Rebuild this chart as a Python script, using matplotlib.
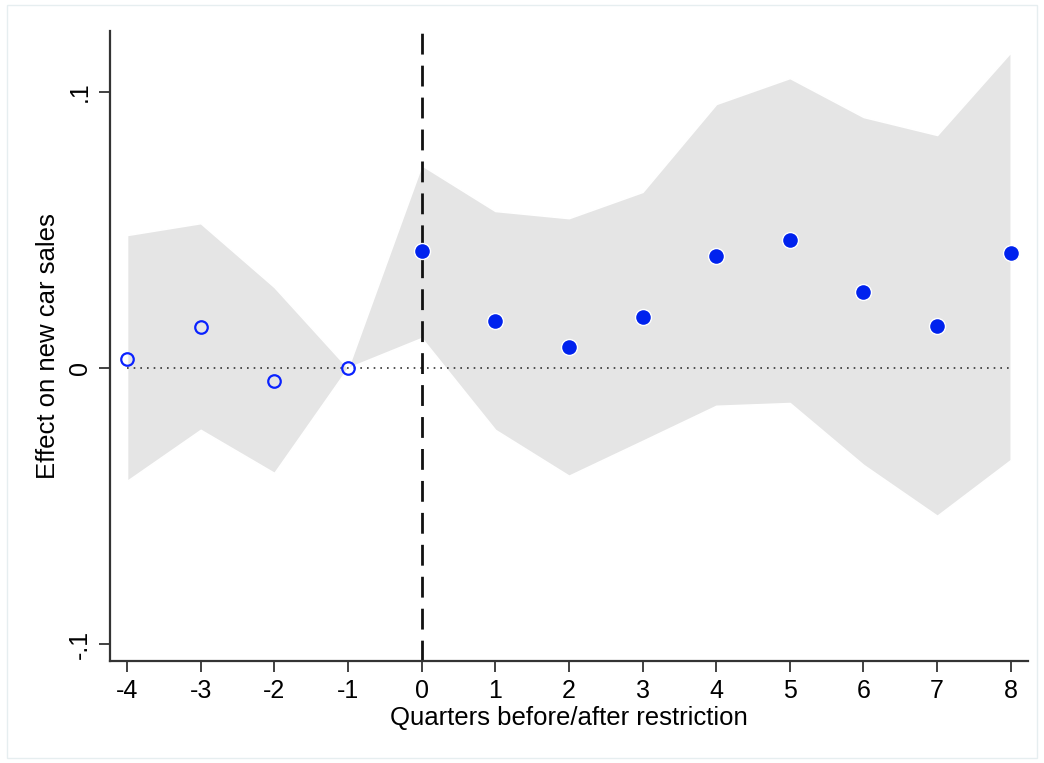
import matplotlib
matplotlib.use("Agg")
import matplotlib.pyplot as plt
from matplotlib.patches import Rectangle

plt.rcParams['font.family'] = ['Liberation Sans', 'DejaVu Sans']

quarters = [-4, -3, -2, -1, 0, 1, 2, 3, 4, 5, 6, 7, 8]
effect = [0.0033, 0.0148, -0.0047, 0.0, 0.0423, 0.0170, 0.0076, 0.0184, 0.0405, 0.0463, 0.0275, 0.0152, 0.0416]
upper = [0.0481, 0.0524, 0.0293, 0.0, 0.0734, 0.0568, 0.0542, 0.0637, 0.0955, 0.1049, 0.0908, 0.0843, 0.1143]
lower = [-0.0409, -0.0224, -0.0380, 0.0, 0.0108, -0.0224, -0.0390, -0.0264, -0.0137, -0.0127, -0.0351, -0.0535, -0.0333]
ytick_vals = [-0.1, 0.0, 0.1]
ytick_labels = ['-.1', '0', '.1']

fig = plt.figure(figsize=(10.44, 7.63), dpi=100)
ax = fig.add_axes([0.1054, 0.1337, 0.8790, 0.8257])

ax.fill_between(quarters, lower, upper, color='#e5e5e5', edgecolor='white', linewidth=1.2, zorder=1)
ax.plot([quarters[0], quarters[-1]], [0, 0], linestyle=(0, (1, 3)), color='#333333', linewidth=1.2, zorder=2)
ax.axvline(0, color='#111111', linewidth=2, linestyle=(0, (7.5, 4)), zorder=2)

pre = [i for i, q in enumerate(quarters) if q < 0]
post = [i for i, q in enumerate(quarters) if q >= 0]
ax.plot([quarters[i] for i in pre], [effect[i] for i in pre], 'o', markersize=9,
        markerfacecolor='none', markeredgecolor='#0a22ff', markeredgewidth=1.6, zorder=3)
ax.plot([quarters[i] for i in post], [effect[i] for i in post], 'o', markersize=11.5,
        markerfacecolor='#0022ee', markeredgecolor='white', markeredgewidth=1.0, zorder=3)

ax.set_xlim(-4.23, 8.23)
ax.set_ylim(-0.106, 0.1219)
ax.set_xticks(quarters)
ax.set_xticklabels([str(q) for q in quarters])
ax.set_yticks(ytick_vals)
ax.set_yticklabels(ytick_labels, rotation=90, va='center')

for s in ['top', 'right']:
    ax.spines[s].set_visible(False)
for s in ['left', 'bottom']:
    ax.spines[s].set_color('#333333')
    ax.spines[s].set_linewidth(1.6)
ax.tick_params(axis='both', length=8, width=1.3, color='#333333', labelsize=18, pad=5)

ax.set_xlabel('Quarters before/after restriction', fontsize=18.5, labelpad=2)
ax.set_ylabel('Effect on new car sales', fontsize=18.5, labelpad=6)

fig.patches.append(Rectangle((7/1044, 1 - 758/763), 1 - 14/1044, (758 - 5)/763, transform=fig.transFigure,
                             fill=False, edgecolor='#e6eef0', linewidth=1.0))

fig.savefig('out.png', dpi=100)
